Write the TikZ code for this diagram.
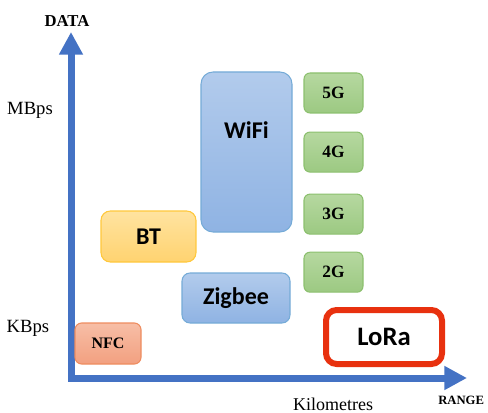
\documentclass[tikz,border=0pt]{standalone}
\usepackage{fontspec}
\setmainfont{Liberation Serif}
\newfontfamily\calibri{Carlito}
\usepackage{tikz}
\usetikzlibrary{
  arrows.meta,
  positioning
}
\definecolor{axisblue}{HTML}{4472C4}
\definecolor{lorared}{HTML}{E8310F}
\tikzset{
  axis/.style     = {{Triangle[length=17pt, width=17pt]}-{Triangle[length=17pt, width=17pt]},
                     line width=5.25pt, axisblue, miter limit=4},
  techbox/.style  = {draw, line width=0.8pt, inner sep=0pt},
  wifibox/.style  = {techbox, rounded corners=9pt, draw=blue!45!cyan!55!gray!70,
                     top color={rgb,255:red,178;green,203;blue,236},
                     bottom color={rgb,255:red,143;green,179;blue,227}},
  gbox/.style     = {techbox, rounded corners=4.5pt, draw={rgb,255:red,140;green,192;blue,110},
                     top color={rgb,255:red,182;green,216;blue,160},
                     bottom color={rgb,255:red,156;green,201;blue,130},
                     minimum width=44.25pt, minimum height=30pt,
                     font=\fontsize{13}{15}\selectfont\bfseries},
  btbox/.style    = {techbox, rounded corners=7pt, draw={rgb,255:red,255;green,200;blue,60},
                     top color={rgb,255:red,255;green,227;blue,160},
                     bottom color={rgb,255:red,255;green,211;blue,112}},
  nfcbox/.style   = {techbox, rounded corners=5pt, draw={rgb,255:red,238;green,140;blue,95},
                     top color={rgb,255:red,247;green,190;blue,166},
                     bottom color={rgb,255:red,242;green,160;blue,128}},
  lorabox/.style  = {draw=lorared, line width=4.5pt, rounded corners=8pt, fill=white},
  bigtxt/.style   = {font=\calibri\fontsize{18}{20}\selectfont\bfseries},
  axistitle/.style= {inner sep=0pt},
  unittxt/.style  = {font=\fontsize{14}{16}\selectfont},
}

\begin{document}
\begin{tikzpicture}[x=0.75pt, y=-0.75pt]
\useasboundingbox (0,0) rectangle (488,413);

% axes
\coordinate (orig) at (71,378);
\coordinate (ytip) at (71,32);
\coordinate (xtip) at (467,378);
\draw[axis] (ytip) -- (orig) -- (xtip);

\node[axistitle, font=\fontsize{12.5}{14}\selectfont\bfseries] (data) at (67,21) {DATA};
\node[axistitle, font=\fontsize{9.5}{11}\selectfont\bfseries, anchor=west] (range) at (438,400) {RANGE};
\node[unittxt] (mbps) at (30,110) {MBps};
\node[unittxt] (kbps) at (28,328) {KBps};
\node[inner sep=0pt, font=\fontsize{13.5}{15}\selectfont] (km) at (333,404) {Kilometres};

% technologies
\node[wifibox, minimum width=68.25pt, minimum height=120pt] (wifi) at (246.5,152) {};
\node[bigtxt] (wifitxt) at ([yshift=16.5pt]wifi.center) {WiFi};

\node[gbox] (g5) at (333.5,93) {5G};
\node[gbox, below=13.5pt of g5] (g4) {4G};
\node[gbox, below=15.75pt of g4] (g3) {3G};
\node[gbox, below=12.75pt of g3] (g2) {2G};

\node[btbox, bigtxt, minimum width=71.25pt, minimum height=38.25pt] (bt) at (148.5,236.5) {BT};
\node[wifibox, bigtxt, rounded corners=6pt, minimum width=81pt, minimum height=37.5pt] (zigbee) at (236,298) {Zigbee};
\node[nfcbox, font=\fontsize{12}{14}\selectfont\bfseries, minimum width=49.5pt, minimum height=30.75pt] (nfc) at (108,343.5) {NFC};

\node[lorabox, font=\calibri\fontsize{20}{22}\selectfont\bfseries, minimum width=87pt, minimum height=40.5pt] (lora) at (384,337) {LoRa};

\end{tikzpicture}
\end{document}
